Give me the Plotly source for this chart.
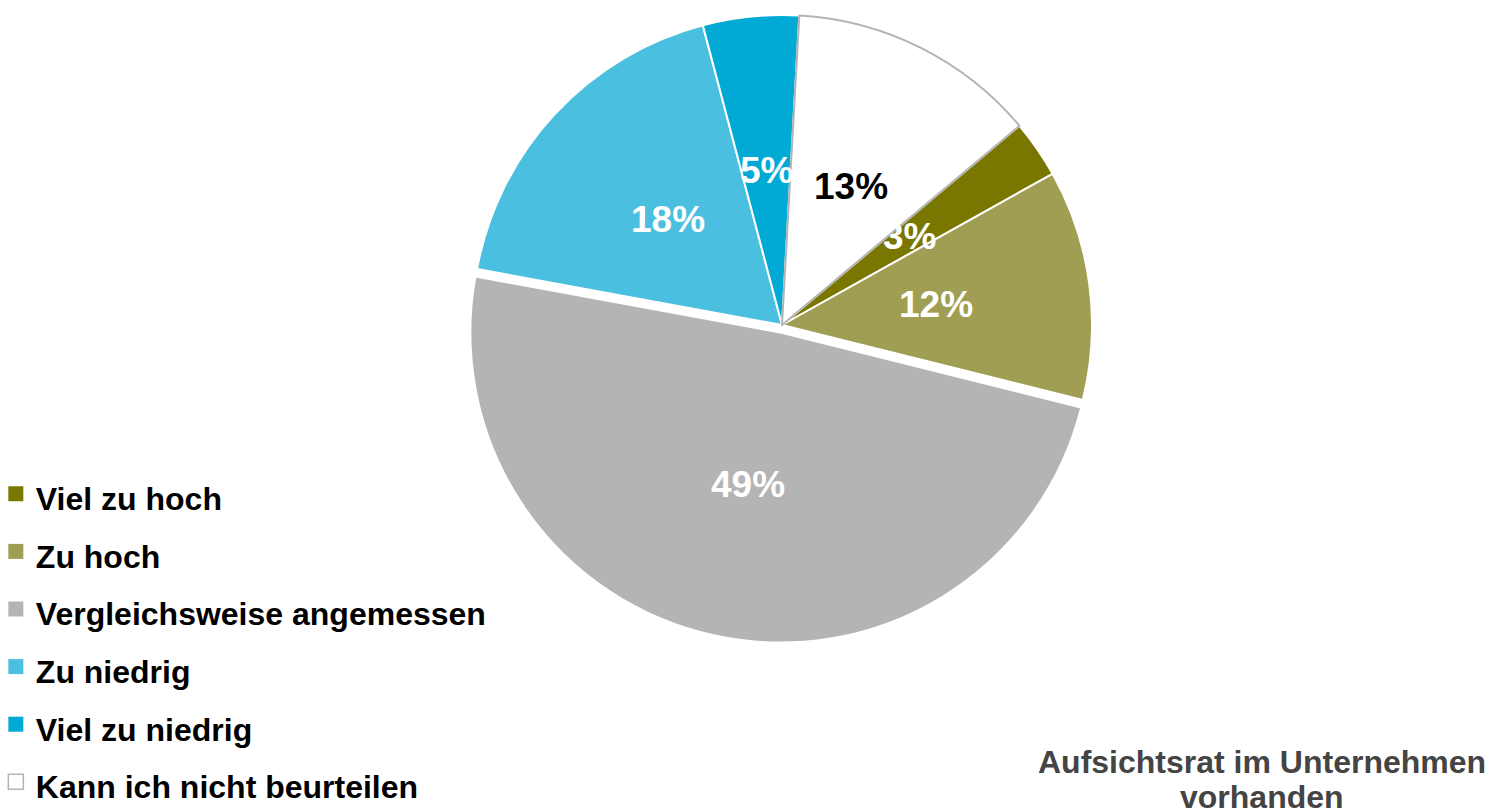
import numpy as np
import plotly.graph_objects as go

labels = ["Viel zu hoch", "Zu hoch", "Vergleichsweise angemessen", "Zu niedrig",
          "Viel zu niedrig", "Kann ich nicht beurteilen"]
values = [3, 12, 49, 18, 5, 13]
colors = ["#7A7700", "#A09E52", "#B4B4B4", "#4BBFE0", "#00AAD5", "#FFFFFF"]
line_colors = ["#FFFFFF", "#FFFFFF", "#FFFFFF", "#FFFFFF", "#FFFFFF", "#B4B4B4"]
text_colors = ["#FFFFFF", "#FFFFFF", "#FFFFFF", "#FFFFFF", "#FFFFFF", "#000000"]
pulls = [0, 0, 0.025, 0, 0, 0]
title_lines = ["Aufsichtsrat im Unternehmen", "vorhanden"]

FONT = "Liberation Sans, Arial, Helvetica, sans-serif"
W, H = 1489, 812
cx, cy, R = 782, 325, 310
rotation = 50
half = R * (1 + max(pulls))

fig = go.Figure(go.Pie(
    labels=labels,
    values=values,
    sort=False,
    direction="clockwise",
    rotation=rotation,
    pull=pulls,
    marker=dict(colors=colors, line=dict(color=line_colors, width=2)),
    textinfo="none",
    hoverinfo="skip",
    showlegend=False,
    domain=dict(x=[(cx - half) / W, (cx + half) / W],
                y=[1 - (cy + half) / H, 1 - (cy - half) / H]),
))

# legend entries (larger square swatches, matching the slice colours)
for lab, col in zip(labels, colors):
    is_white = col.upper() == "#FFFFFF"
    fig.add_trace(go.Scatter(
        x=[None], y=[None], mode="markers",
        name='<span style="font-size:32px"><b>%s</b></span>' % lab,
        marker=dict(symbol="square", size=15, color=col,
                    line=dict(color="#B4B4B4" if is_white else col,
                              width=1.5 if is_white else 0)),
        hoverinfo="skip", showlegend=True))

# percentage labels placed at half radius along each slice's bisector
vals = np.array(values, dtype=float)
pct = vals / vals.sum()
ends = rotation + np.cumsum(pct) * 360
mids = ends - pct * 360 / 2
annotations = []
for p, m, pl, tc in zip(pct, mids, pulls, text_colors):
    a = np.deg2rad(m)
    d = R * (0.5 + pl)
    x = cx + d * np.sin(a)
    y = cy - d * np.cos(a)
    annotations.append(dict(
        text="<b>%d%%</b>" % round(p * 100), x=x / W, y=1 - y / H,
        xref="paper", yref="paper", xanchor="center", yanchor="middle",
        showarrow=False, font=dict(family=FONT, size=37, color=tc)))

for i, t in enumerate(title_lines):
    annotations.append(dict(
        text="<b>" + t + "</b>", x=1262 / W, y=1 - (762 + 35 * i) / H,
        xref="paper", yref="paper", xanchor="center", yanchor="middle",
        showarrow=False, font=dict(family=FONT, size=32, color="#444444")))

fig.update_layout(
    width=W, height=H,
    margin=dict(l=0, r=0, t=0, b=0, autoexpand=False),
    paper_bgcolor="white",
    plot_bgcolor="rgba(0,0,0,0)",
    hovermode=False,
    xaxis=dict(visible=False),
    yaxis=dict(visible=False),
    showlegend=True,
    legend=dict(x=-0.0028, xanchor="left", y=-4 / H, yanchor="bottom",
                font=dict(family=FONT, size=42, color="#000000"),
                traceorder="normal", itemsizing="trace",
                bgcolor="rgba(0,0,0,0)"),
    font=dict(family=FONT),
    annotations=annotations,
)

fig.write_html("out.html", config={"displayModeBar": False},
               post_script="document.body.style.margin='0';")
